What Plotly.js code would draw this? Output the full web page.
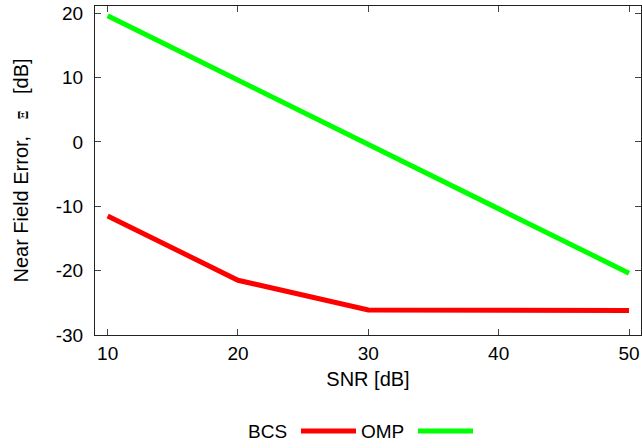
<!DOCTYPE html>
<html><head><meta charset="utf-8">
<script src="https://cdn.plot.ly/plotly-3.0.1.min.js"></script>
<style>body{margin:0;background:#fff}#c{width:642px;height:448px}</style>
</head><body><div id="c"></div>
<script>
const snr = [10, 20, 30, 40, 50];
const bcs = [-11.5, -21.5, -26.1, -26.1, -26.2];
const omp = [19.6, 9.6, -0.5, -10.4, -20.4];
const xTicks = [10, 20, 30, 40, 50];
const yTicks = [-30, -20, -10, 0, 10, 20];
const seriesNames = ['BCS', 'OMP'];
const seriesColors = ['#ff0000', '#00ff00'];

const font = {family: 'Liberation Sans, Arial, sans-serif', size: 19, color: '#000'};
const titleFont = {family: 'Liberation Sans, Arial, sans-serif', size: 20, color: '#000'};
const traces = [
  {x: snr, y: bcs, mode: 'lines', name: seriesNames[0], line: {color: seriesColors[0], width: 5}, showlegend: false},
  {x: snr, y: omp, mode: 'lines', name: seriesNames[1], line: {color: seriesColors[1], width: 5}, showlegend: false}
];
const axisCommon = {
  showline: true, linecolor: '#222', linewidth: 1, mirror: 'ticks',
  ticks: 'inside', ticklen: 6, tickcolor: '#444', tickwidth: 1,
  showgrid: false, zeroline: false, tickfont: font
};
const NB = '\u00a0';
const layout = {
  width: 642, height: 448,
  margin: {l: 95, r: 1, t: 6, b: 113},
  paper_bgcolor: '#fff', plot_bgcolor: '#fff',
  font: font,
  xaxis: Object.assign({}, axisCommon, {
    range: [9.03, 50.92], tickvals: xTicks, ticktext: xTicks.map(String),
    ticklabelstandoff: 1,
    title: {text: 'SNR [dB]', font: titleFont, standoff: 9}
  }),
  yaxis: Object.assign({}, axisCommon, {
    range: [-30, 21.1], tickvals: yTicks, ticktext: yTicks.map(String),
    ticklabelstandoff: 7,
    title: {text: 'Near Field Error,' + NB + NB + NB + '<span style="font-family:DejaVu Serif,serif;font-size:12px;font-weight:bold">Ξ</span>' + NB + NB + NB + '[dB]', font: titleFont, standoff: 21}
  }),
  showlegend: false,
  annotations: [
    {xref: 'paper', yref: 'paper', x: (289 - 95) / 546, y: -0.292, xanchor: 'right', yanchor: 'middle', text: seriesNames[0], showarrow: false, font: font},
    {xref: 'paper', yref: 'paper', x: (406 - 95) / 546, y: -0.292, xanchor: 'right', yanchor: 'middle', text: seriesNames[1], showarrow: false, font: font}
  ],
  shapes: [
    {type: 'line', xref: 'paper', yref: 'paper', x0: (301 - 95) / 546, x1: (356 - 95) / 546, y0: -0.292, y1: -0.292, line: {color: seriesColors[0], width: 5}},
    {type: 'line', xref: 'paper', yref: 'paper', x0: (418 - 95) / 546, x1: (473 - 95) / 546, y0: -0.292, y1: -0.292, line: {color: seriesColors[1], width: 5}}
  ]
};
Plotly.newPlot('c', traces, layout, {displayModeBar: false, staticPlot: true});
</script></body></html>
